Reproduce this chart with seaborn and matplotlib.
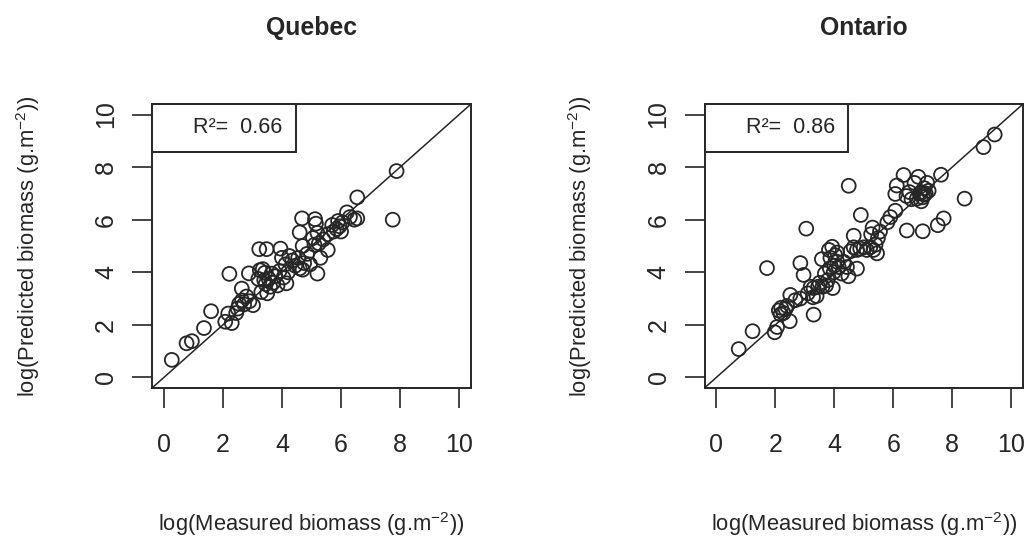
import numpy as np
import pandas as pd
import matplotlib
matplotlib.use("Agg")
import matplotlib.pyplot as plt
from matplotlib.lines import Line2D
import seaborn as sns

# ---------------- data ----------------
quebec_measured = [0.27, 0.77, 0.95, 1.36, 1.60, 2.08, 2.30, 2.18, 2.22, 2.50,
                   2.55, 2.65, 2.72, 2.80, 2.90, 3.02, 2.64, 2.88, 3.23, 3.48,
                   3.25, 3.35, 3.42, 3.20, 3.30, 3.45, 3.50, 3.55, 3.60, 3.70,
                   3.78, 3.85, 3.92, 3.95, 4.00, 4.05, 4.15, 4.12, 4.25, 4.35,
                   4.45, 4.55, 4.60, 4.70, 4.75, 4.68, 4.60, 4.70, 4.85, 4.95,
                   5.05, 5.12, 5.15, 5.20, 5.25, 5.10, 5.20, 5.30, 5.40, 5.55,
                   5.55, 5.70, 5.75, 5.85, 5.95, 6.00, 6.05, 6.20, 6.30, 6.45,
                   6.55, 6.55, 7.88, 7.75, 3.65, 3.40, 4.20, 5.90, 2.45]
quebec_predicted = [0.67, 1.30, 1.38, 1.88, 2.52, 2.12, 2.07, 2.43, 3.94, 2.62,
                    2.80, 2.93, 2.78, 3.08, 2.90, 2.75, 3.38, 3.96, 4.88, 4.88,
                    4.08, 4.12, 3.98, 3.75, 3.25, 3.55, 3.20, 3.75, 3.45, 3.60,
                    3.85, 3.50, 4.05, 4.90, 4.55, 3.80, 3.58, 4.30, 4.62, 4.45,
                    4.25, 4.55, 4.15, 4.10, 4.35, 6.05, 5.52, 5.00, 4.70, 4.30,
                    5.30, 6.02, 5.85, 5.50, 5.10, 5.05, 3.95, 4.55, 5.25, 4.85,
                    5.45, 5.80, 5.55, 5.65, 5.75, 5.55, 5.90, 6.28, 6.10, 6.00,
                    6.05, 6.85, 7.85, 6.00, 3.95, 3.70, 4.00, 5.95, 2.45]

ontario_measured = [0.76, 1.23, 1.72, 1.98, 2.06, 2.49, 2.12, 2.20, 2.28, 2.35,
                    2.18, 2.40, 2.51, 2.68, 2.85, 2.85, 2.96, 3.05, 3.30, 3.20,
                    3.30, 3.40, 3.45, 3.28, 3.60, 3.72, 3.78, 3.95, 3.68, 3.58,
                    3.82, 3.93, 4.03, 3.87, 4.10, 4.15, 3.98, 4.00, 4.32, 4.43,
                    4.48, 4.25, 4.49, 4.77, 4.55, 4.66, 4.77, 4.88, 5.00, 5.10,
                    5.22, 5.33, 5.40, 5.45, 4.66, 4.90, 5.30, 5.25, 5.48, 5.55,
                    5.80, 5.90, 6.07, 6.12, 6.07, 6.35, 6.45, 6.62, 6.72, 6.85,
                    6.90, 7.00, 7.10, 7.20, 7.05, 6.95, 6.80, 6.55, 7.15, 7.62,
                    6.46, 7.00, 7.51, 7.71, 8.42, 9.06, 9.44, 6.95, 7.05, 3.10,
                    3.50, 4.10, 3.85]
ontario_predicted = [1.08, 1.76, 4.16, 1.72, 1.92, 2.14, 2.55, 2.65, 2.45, 2.60,
                     2.40, 2.72, 3.14, 2.94, 3.00, 4.35, 3.90, 5.66, 2.39, 3.45,
                     3.40, 3.10, 3.45, 3.05, 3.45, 3.50, 3.70, 3.40, 3.95, 4.50,
                     4.85, 4.97, 4.65, 4.55, 4.40, 4.20, 4.00, 4.25, 4.40, 4.20,
                     3.85, 3.95, 7.29, 4.14, 4.80, 4.95, 4.85, 4.90, 4.95, 4.85,
                     4.95, 4.85, 5.05, 4.72, 5.39, 6.18, 5.70, 5.45, 5.30, 5.55,
                     5.90, 6.10, 6.34, 7.30, 6.98, 7.70, 6.90, 6.78, 7.40, 7.63,
                     7.00, 6.85, 7.00, 7.10, 7.20, 6.70, 6.80, 7.05, 7.40, 7.71,
                     5.59, 5.56, 5.79, 6.05, 6.80, 8.76, 9.24, 7.05, 6.95, 3.20,
                     3.60, 4.75, 4.15]

panel_titles = ["Quebec", "Ontario"]
r2_values = ["0.66", "0.86"]
tick_values = [0, 2, 4, 6, 8, 10]
x_label = r"log(Measured biomass (g.m$^{-2}$))"
y_label = r"log(Predicted biomass (g.m$^{-2}$))"

# ---------------- style ----------------
sns.set_style("white")
plt.rcParams["font.family"] = ["Liberation Sans", "DejaVu Sans"]
plt.rcParams["mathtext.fontset"] = "custom"
plt.rcParams["mathtext.rm"] = "Liberation Sans"
plt.rcParams["mathtext.it"] = "Liberation Sans:italic"
plt.rcParams["mathtext.bf"] = "Liberation Sans:bold"
plt.rcParams["mathtext.default"] = "regular"

INK = "#262626"
W, H = 1028, 541
fig = plt.figure(figsize=(W / 100, H / 100), dpi=100)

box_top, box_bot = 104, 388
lefts = [152, 704.5]
widths = [319, 318.5]

datasets = [(quebec_measured, quebec_predicted), (ontario_measured, ontario_predicted)]

for i in range(2):
    left = lefts[i]
    width = widths[i]
    ax = fig.add_axes([left / W, 1 - box_bot / H, width / W, (box_bot - box_top) / H])
    mx, py = datasets[i]
    df = pd.DataFrame({"measured": mx, "predicted": py})
    sns.scatterplot(data=df, x="measured", y="predicted", ax=ax,
                    s=100, facecolors="none", edgecolor=INK, linewidth=1.3,
                    marker="o", zorder=3)
    ax.axline((0, 0), slope=1, color=INK, lw=1.1, zorder=2)
    ax.set_xlim(-0.4, 10.4)
    ax.set_ylim(-0.4, 10.4)
    ax.set_xticks(tick_values)
    ax.set_yticks(tick_values)
    ax.set_xlabel("")
    ax.set_ylabel("")
    for sp in ax.spines.values():
        sp.set_color(INK)
        sp.set_linewidth(1.4)
    ax.tick_params(axis="both", direction="out", length=14.4, width=1.2,
                   color=INK, labelcolor=INK, labelsize=18)
    ax.tick_params(axis="x", pad=18, bottom=True)
    ax.tick_params(axis="y", pad=10, left=True)
    for lab in ax.get_yticklabels():
        lab.set_rotation(90)
        lab.set_va("center")
        lab.set_ha("right")

    leg = ax.legend([Line2D([], [], linestyle="none")],
                    ["R\u00b2=  " + r2_values[i]],
                    loc="upper left", borderaxespad=0, fancybox=False,
                    handlelength=0.7, handletextpad=0.6, borderpad=0.62,
                    fontsize=15.5, frameon=True, framealpha=1)
    leg.get_frame().set_edgecolor(INK)
    leg.get_frame().set_linewidth(1.4)
    for t in leg.get_texts():
        t.set_color(INK)

    cx = left + width / 2
    fig.text(cx / W, 1 - 28 / H, panel_titles[i], ha="center", va="center",
             fontsize=17.8, fontweight="bold", color=INK)
    fig.text(cx / W, 1 - 524 / H, x_label, ha="center", va="center",
             fontsize=15.8, color=INK)
    fig.text((left - 124) / W, 1 - (box_top + box_bot) / 2 / H, y_label,
             ha="center", va="center", rotation=90, fontsize=15.8, color=INK)

fig.savefig("out.png", dpi=100)
